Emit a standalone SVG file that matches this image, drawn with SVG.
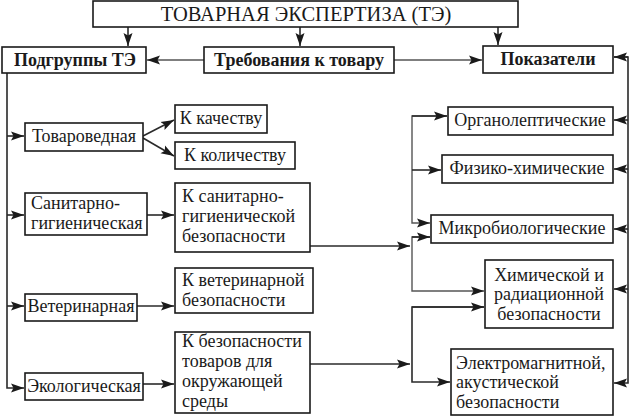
<svg xmlns="http://www.w3.org/2000/svg" width="630" height="419" viewBox="0 0 630 419">
<defs>
<marker id="ah" markerUnits="userSpaceOnUse" markerWidth="14" markerHeight="10" refX="13" refY="5" orient="auto">
<path d="M0,0.5 L13,5 L0,9.5 L2.5,5 Z" fill="#1a1a1a"/>
</marker>
<style>
.b{fill:#fff;stroke:#1a1a1a;stroke-width:1.6}
.t{font-family:'Liberation Serif','Times New Roman',serif;font-size:18px;fill:#1a1a1a}
.c{text-anchor:middle}
.bd{font-weight:bold}
.l{fill:none;stroke:#2a2a2a;stroke-width:1.6}
.g{fill:none;stroke:#555;stroke-width:1.4}
</style>
</defs>
<rect width="630" height="419" fill="#fff"/>
<g id="connectors">
<path class="l" d="M128,27 V46" marker-end="url(#ah)"/>
<path class="l" d="M300,27 V46" marker-end="url(#ah)"/>
<path class="l" d="M498,27 V45" marker-end="url(#ah)"/>
<path class="g" d="M204,60 H147" marker-end="url(#ah)"/>
<path class="g" d="M394,60 H482" marker-end="url(#ah)"/>
<path class="l" d="M7,73 V388 H24" marker-end="url(#ah)"/>
<path class="l" d="M7,136 H24" marker-end="url(#ah)"/>
<path class="l" d="M7,215 H24" marker-end="url(#ah)"/>
<path class="l" d="M7,306 H24" marker-end="url(#ah)"/>
<path class="l" d="M143,136 L174,120" marker-end="url(#ah)"/>
<path class="l" d="M143,138 L174,156" marker-end="url(#ah)"/>
<path class="l" d="M147,215 H174" marker-end="url(#ah)"/>
<path class="l" d="M137,306 H174" marker-end="url(#ah)"/>
<path class="l" d="M143,384 H174" marker-end="url(#ah)"/>
<path class="l" d="M310,246 H410" marker-end="url(#ah)"/>
<path class="l" d="M310,364 H410" marker-end="url(#ah)"/>
<path class="g" d="M447,116 H412 V223 H430" marker-end="url(#ah)"/>
<path class="l" d="M412,116 H447" marker-end="url(#ah)"/>
<path class="l" d="M412,170 H441" marker-end="url(#ah)"/>
<path class="g" d="M430,237 H412 V291 H484" marker-end="url(#ah)"/>
<path class="l" d="M412,237 H430" marker-end="url(#ah)"/>
<path class="l" d="M484,307 H412 V382 H450" marker-end="url(#ah)"/>
<path class="l" d="M412,307 H484" marker-end="url(#ah)"/>
<path class="l" d="M614,57 H628 V383 H614" marker-end="url(#ah)"/>
<path class="l" d="M628,57 H614" marker-end="url(#ah)"/>
<path class="l" d="M628,120 H614" marker-end="url(#ah)"/>
<path class="l" d="M628,169 H614" marker-end="url(#ah)"/>
<path class="l" d="M628,229 H614" marker-end="url(#ah)"/>
<path class="l" d="M628,289 H614" marker-end="url(#ah)"/>
</g>
<g id="n-title"><rect class="b" x="93" y="1" width="425" height="26"/><text class="t c" x="306" y="21" style="font-size:20.5px">ТОВАРНАЯ ЭКСПЕРТИЗА (ТЭ)</text></g>
<g id="n-podgruppy"><rect class="b" x="2" y="47" width="144" height="26"/><text class="t c bd" x="75" y="66">Подгруппы ТЭ</text></g>
<g id="n-trebovaniya"><rect class="b" x="204" y="47" width="190" height="26"/><text class="t c bd" x="299" y="66">Требования к товару</text></g>
<g id="n-pokazateli"><rect class="b" x="483" y="46" width="130" height="27"/><text class="t c bd" x="548" y="65">Показатели</text></g>
<g id="n-tovarovednaya"><rect class="b" x="25" y="123" width="118" height="28"/><text class="t c" x="84" y="142">Товароведная</text></g>
<g id="n-kachestvo"><rect class="b" x="175" y="105" width="92" height="28"/><text class="t c" x="221" y="124">К качеству</text></g>
<g id="n-kolichestvo"><rect class="b" x="175" y="142" width="120" height="27"/><text class="t c" x="235" y="161">К количеству</text></g>
<g id="n-sanitarno"><rect class="b" x="25" y="193" width="122" height="42"/><text class="t" x="31" y="209">Санитарно-</text><text class="t" x="31" y="229">гигиеническая</text></g>
<g id="n-k-sanitarno"><rect class="b" x="175" y="183" width="135" height="69"/><text class="t" x="182" y="202">К санитарно-</text><text class="t" x="182" y="222">гигиенической</text><text class="t" x="182" y="242">безопасности</text></g>
<g id="n-veterinarnaya"><rect class="b" x="25" y="294" width="112" height="27"/><text class="t c" x="81" y="312">Ветеринарная</text></g>
<g id="n-k-veterinarnoy"><rect class="b" x="175" y="268" width="138" height="45"/><text class="t" x="182" y="286">К ветеринарной</text><text class="t" x="182" y="306">безопасности</text></g>
<g id="n-ekologicheskaya"><rect class="b" x="25" y="373" width="118" height="27"/><text class="t c" x="84" y="392">Экологическая</text></g>
<g id="n-k-bezopasnosti"><rect class="b" x="175" y="332" width="135" height="81"/><text class="t" x="182" y="347">К безопасности</text><text class="t" x="182" y="367">товаров для</text><text class="t" x="182" y="387">окружающей</text><text class="t" x="182" y="406.5">среды</text></g>
<g id="n-organolept"><rect class="b" x="448" y="107" width="165" height="28"/><text class="t c" x="530" y="126">Органолептические</text></g>
<g id="n-fiziko"><rect class="b" x="442" y="155" width="171" height="28"/><text class="t c" x="527" y="174">Физико-химические</text></g>
<g id="n-mikrobio"><rect class="b" x="431" y="215" width="182" height="28"/><text class="t c" x="522" y="234">Микробиологические</text></g>
<g id="n-himicheskoy"><rect class="b" x="485" y="260" width="128" height="68"/><text class="t c" x="549" y="280.5">Химической и</text><text class="t c" x="549" y="300">радиационной</text><text class="t c" x="549" y="319.5">безопасности</text></g>
<g id="n-elektro"><rect class="b" x="451" y="349" width="162" height="66"/><text class="t" x="456" y="368.5">Электромагнитной,</text><text class="t" x="456" y="388">акустической</text><text class="t" x="456" y="407.5">безопасности</text></g>
</svg>
